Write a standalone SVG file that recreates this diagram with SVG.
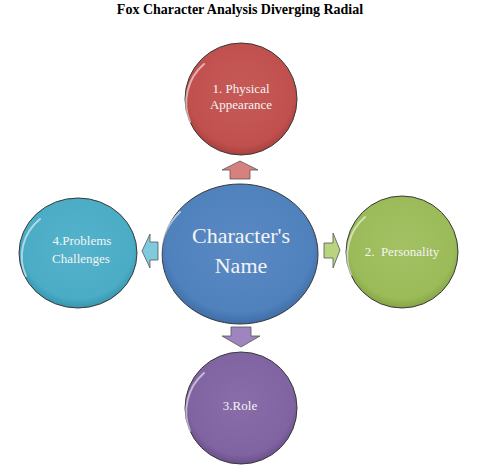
<svg xmlns="http://www.w3.org/2000/svg" width="500" height="472" viewBox="0 0 500 472">
<style>
.title{font-family:"Liberation Serif","Times New Roman",serif;font-weight:bold;font-size:14px;fill:#000}
.lbl{font-family:"Liberation Serif","Times New Roman",serif;font-size:13px;fill:#f4f4f4;text-anchor:middle}
.big{font-family:"Liberation Serif","Times New Roman",serif;font-size:22px;fill:#f4f4f4;text-anchor:middle}
.node{stroke:#3a3a3a;stroke-width:1}
.hl{fill:none;stroke:#fff;stroke-opacity:0.55;stroke-width:2;stroke-linecap:round}
.arrow{stroke:#555;stroke-width:0.8}
</style>
<defs>
<radialGradient id="gRed" cx="50%" cy="45%" r="55%"><stop offset="0" stop-color="#C65A57"/><stop offset="0.85" stop-color="#C0504D"/><stop offset="1" stop-color="#A8413F"/></radialGradient>
<radialGradient id="gBlue" cx="50%" cy="45%" r="55%"><stop offset="0" stop-color="#5A8AC4"/><stop offset="0.85" stop-color="#4F81BD"/><stop offset="1" stop-color="#3F6DA6"/></radialGradient>
<radialGradient id="gGreen" cx="50%" cy="45%" r="55%"><stop offset="0" stop-color="#A3C163"/><stop offset="0.85" stop-color="#9BBB59"/><stop offset="1" stop-color="#85A445"/></radialGradient>
<radialGradient id="gPurple" cx="50%" cy="45%" r="55%"><stop offset="0" stop-color="#886DA9"/><stop offset="0.85" stop-color="#8064A2"/><stop offset="1" stop-color="#6A4F8C"/></radialGradient>
<radialGradient id="gAqua" cx="50%" cy="45%" r="55%"><stop offset="0" stop-color="#55B3CB"/><stop offset="0.85" stop-color="#4BACC6"/><stop offset="1" stop-color="#3795AE"/></radialGradient>
</defs>
<text class="title" x="240" y="14" text-anchor="middle">Fox Character Analysis Diverging Radial</text>

<g id="connectors">
<path class="arrow" d="M230,179 L230,170 L222,170 L240,161 L258,170 L250,170 L250,179 Z" fill="#D7817E"/>
<path class="arrow" d="M231,327 L251,327 L251,336 L260,336 L241,347 L222,336 L231,336 Z" fill="#9E85C0"/>
<path class="arrow" d="M158,242 L150,242 L150,234 L142,251 L150,268 L150,260 L158,260 Z" fill="#7FCADC"/>
<path class="arrow" d="M324,243 L333,243 L333,233 L340,250 L333,268 L333,258 L324,258 Z" fill="#B9D47F"/>
</g>

<g id="center">
<ellipse class="node" cx="240" cy="254" rx="78" ry="70" fill="url(#gBlue)"/>
<path class="hl" d="M172,290 A72,64 0 0 1 180,212"/>
<text class="big" x="241" y="243">Character's</text>
<text class="big" x="241" y="273">Name</text>
</g>

<g id="physical">
<circle class="node" cx="241" cy="99" r="56" fill="url(#gRed)"/>
<path class="hl" d="M190,122 A51,51 0 0 1 204,64"/>
<text class="lbl" x="241" y="93">1. Physical</text>
<text class="lbl" x="241" y="109">Appearance</text>
</g>

<g id="personality">
<circle class="node" cx="402" cy="252" r="56" fill="url(#gGreen)"/>
<path class="hl" d="M351,275 A51,51 0 0 1 365,217"/>
<text class="lbl" x="402" y="256" xml:space="preserve">2.  Personality</text>
</g>

<g id="role">
<circle class="node" cx="241" cy="408" r="56" fill="url(#gPurple)"/>
<path class="hl" d="M190,431 A51,51 0 0 1 204,373"/>
<text class="lbl" x="240" y="410">3.Role</text>
</g>

<g id="problems">
<ellipse class="node" cx="78" cy="253" rx="59" ry="55" fill="url(#gAqua)"/>
<path class="hl" d="M26,276 A54,50 0 0 1 40,219"/>
<text class="lbl" x="82" y="245">4.Problems</text>
<text class="lbl" x="81" y="263">Challenges</text>
</g>
</svg>
